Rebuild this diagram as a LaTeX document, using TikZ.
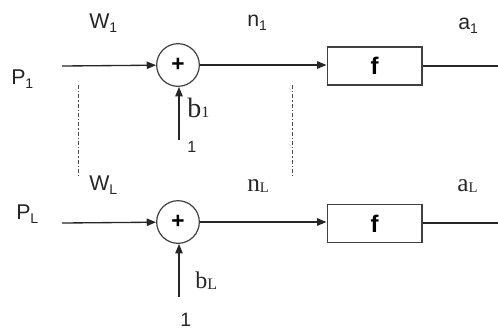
\documentclass[tikz,border=0pt]{standalone}
\usepackage{fontspec}
\setmainfont{Liberation Sans}
\newfontfamily\serifface{Liberation Serif}
\usetikzlibrary{arrows.meta}
\newcommand\lsub[1]{\raisebox{-3pt}{\fontsize{10.5}{11}\selectfont #1}}
\newcommand\bigtxt{\fontsize{16}{18}\selectfont}
\begin{document}
\begin{tikzpicture}[x=0.75pt,y=-0.75pt,
  lbl/.style={anchor=base west,inner sep=0pt,text=black!85,font=\bigtxt},
  sumnode/.style={circle,draw=black!75,line width=0.9pt,minimum size=32pt,inner sep=0pt,font=\bfseries\fontsize{17}{18}\selectfont},
  fbox/.style={rectangle,draw=black!75,line width=1pt,minimum width=71pt,minimum height=28.5pt,inner sep=0pt,font=\bfseries\fontsize{18}{19}\selectfont},
  wire/.style={line width=1pt,draw=black!85},
  arr/.style={wire,-{Triangle[length=7pt,width=5.5pt]}},
  sep/.style={line width=0.6pt,draw=black!70,dash pattern=on 3pt off 1.5pt on 1pt off 1.5pt}]
\useasboundingbox (0,0) rectangle (498,330);
% top row
\coordinate (in1) at (62,66);
\node[sumnode] (s1) at (178,65) {+};
\node[fbox] (f1) at (374.5,66) {f};
\coordinate (out1) at (498,66);
\coordinate (bi1) at (179,140);
\draw[arr] (in1) -- (s1);
\draw[arr] (s1) -- (s1 -| f1.west);
\draw[wire] (f1) -- (out1);
\draw[arr] (bi1) -- (bi1 |- s1.south);
\node[lbl] (W1) at (89,28) {W\lsub{1}};
\node[lbl] (P1) at (11,84) {P\lsub{1}};
\node[lbl] (n1) at (247,26.7) {n\lsub{1}};
\node[lbl] (a1) at (458,29) {a\lsub{1}};
\node[lbl,font=\serifface\fontsize{21}{22}\selectfont] (b1) at (187,117) {b\raisebox{0pt}{\fontsize{12}{13}\selectfont 1}};
\node[lbl,font=\fontsize{12}{13}\selectfont] (one1) at (187,152) {1};
% separators
\coordinate (d1a) at (78,85); \coordinate (d1b) at (78,177);
\coordinate (d2a) at (292,85); \coordinate (d2b) at (292,177);
\draw[sep] (d1a) -- (d1b);
\draw[sep] (d2a) -- (d2b);
% bottom row
\coordinate (inL) at (62,223);
\node[sumnode] (sL) at (178,222) {+};
\node[fbox] (fL) at (374.5,223.5) {f};
\coordinate (outL) at (498,223);
\coordinate (biL) at (179,297);
\draw[arr] (inL) -- (sL);
\draw[arr] (sL) -- (sL -| fL.west);
\draw[wire] (fL.east |- outL) -- (outL);
\draw[arr] (biL) -- (biL |- sL.south);
\node[lbl] (WL) at (89,190) {W\lsub{L}};
\node[lbl] (PL) at (16,219) {P\lsub{L}};
\node[lbl,font=\serifface\fontsize{19}{20}\selectfont] (nL) at (247,191) {n\raisebox{-1pt}{\fontsize{11}{12}\selectfont L}};
\node[lbl,font=\serifface\fontsize{19}{20}\selectfont] (aL) at (457,191) {a\raisebox{-1pt}{\fontsize{11}{12}\selectfont L}};
\node[lbl,font=\serifface\fontsize{18}{19}\selectfont] (bL) at (195,288) {b\raisebox{-1pt}{\fontsize{12}{13}\selectfont L}};
\node[lbl,font=\fontsize{14.5}{16}\selectfont] (oneL) at (180,326) {1};
\end{tikzpicture}
\end{document}
